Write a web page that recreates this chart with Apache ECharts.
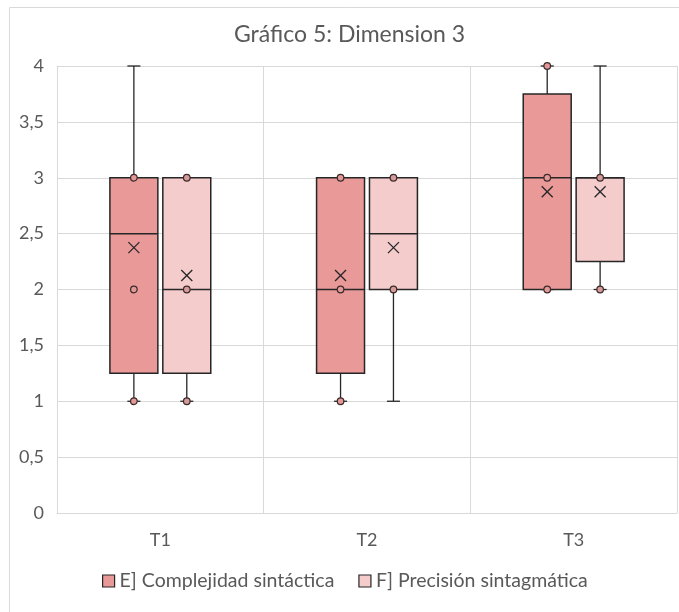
<!DOCTYPE html>
<html>
<head>
<meta charset="utf-8">
<script src="https://cdn.jsdelivr.net/npm/echarts@6/dist/echarts.min.js"></script>
<style>
  html, body { margin: 0; padding: 0; background: #fff; }
  #chart { width: 679px; height: 612px; }
</style>
</head>
<body>
<div id="chart"></div>
<script>
const categories = ['T1', 'T2', 'T3']
const yTicks = [0, 0.5, 1, 1.5, 2, 2.5, 3, 3.5, 4]

// [min, Q1, median, Q3, max]
const complejidadBox = [[1, 1.25, 2.5, 3, 4], [1, 1.25, 2, 3, 3], [2, 2, 3, 3.75, 4]]
const complejidadMean = [2.375, 2.125, 2.875]
const complejidadPoints = [[1, 2, 3], [1, 2, 3], [2, 3, 4]]

const precisionBox = [[1, 1.25, 2, 3, 3], [1, 2, 2.5, 3, 3], [2, 2.25, 3, 3, 4]]
const precisionMean = [2.125, 2.375, 2.875]
const precisionPoints = [[1, 2, 3], [2, 3], [2, 3]]

const nameE = 'E] Complejidad sintáctica'
const nameF = 'F] Precisión sintagmática'
const colorE = '#EA9999'
const colorF = '#F4CCCC'
const ink = '#262626'
const font = 'Lato, "Open Sans", sans-serif'

const boxData = (box, mean) => box.map((b, i) => [i, ...b, mean[i]])
const pointData = pts => pts.flatMap((arr, i) => arr.map(v => [i, v]))

const renderBox = (offset, fill) => (params, api) => {
  const c = api.value(0)
  const w = api.size([1, 0])[0]
  const half = w * 0.116
  const cx = api.coord([c, 0])[0] + w * offset
  const y = k => api.coord([c, api.value(k)])[1]
  const line = (x1, y1, x2, y2, lw) => ({
    type: 'line',
    shape: { x1, y1, x2, y2 },
    style: { stroke: ink, lineWidth: lw || 1.3 },
  })
  const my = y(6)
  const m = 5.5
  return {
    type: 'group',
    children: [
      line(cx, y(1), cx, y(2)),
      line(cx, y(4), cx, y(5)),
      line(cx - 6.5, y(1), cx + 6.5, y(1)),
      line(cx - 6.5, y(5), cx + 6.5, y(5)),
      {
        type: 'rect',
        shape: { x: cx - half, y: y(4), width: half * 2, height: y(2) - y(4) },
        style: { fill, stroke: ink, lineWidth: 1.5 },
      },
      line(cx - half, y(3), cx + half, y(3), 1.5),
      line(cx - m, my - m, cx + m, my + m, 1.3),
      line(cx - m, my + m, cx + m, my - m, 1.3),
    ],
  }
}

const renderPoint = (offset, fill) => (params, api) => {
  const c = api.value(0)
  const w = api.size([1, 0])[0]
  const p = api.coord([c, api.value(1)])
  return {
    type: 'circle',
    shape: { cx: p[0] + w * offset, cy: p[1], r: 3.3 },
    style: { fill, stroke: '#3a2a2a', lineWidth: 1.2 },
  }
}

const chart = echarts.init(document.getElementById('chart'))
chart.setOption({
  animation: false,
  backgroundColor: '#fff',
  title: {
    text: 'Gráfico 5: Dimension 3',
    left: 229,
    top: 18,
    textStyle: { fontFamily: font, fontSize: 23, fontWeight: 'normal', color: '#595959' },
  },
  graphic: [{
    type: 'rect',
    left: 7, top: 5,
    shape: { width: 720, height: 660 },
    style: { fill: 'none', stroke: '#d9d9d9', lineWidth: 1 },
    silent: true,
  }],
  legend: {
    bottom: 16,
    left: 97,
    itemWidth: 12,
    itemHeight: 12,
    itemGap: 24,
    textStyle: { fontFamily: font, fontSize: 19.5, color: '#595959' },
    data: [
      { name: nameE, icon: 'rect', itemStyle: { color: colorE, borderColor: ink, borderWidth: 1.2 } },
      { name: nameF, icon: 'rect', itemStyle: { color: colorF, borderColor: ink, borderWidth: 1.2 } },
    ],
  },
  grid: { left: 57, right: 2, top: 66, bottom: 99 },
  xAxis: {
    type: 'category',
    data: categories,
    boundaryGap: true,
    axisTick: { show: false },
    axisLine: { lineStyle: { color: '#d9d9d9' } },
    splitLine: { show: true, lineStyle: { color: '#d9d9d9' } },
    axisLabel: { fontFamily: font, fontSize: 18, color: '#595959', margin: 18 },
  },
  yAxis: {
    type: 'value',
    min: 0,
    max: 4,
    interval: 0.5,
    axisLine: { show: true, lineStyle: { color: '#d9d9d9' } },
    axisTick: { show: false },
    splitLine: { lineStyle: { color: '#d9d9d9' } },
    axisLabel: {
      fontFamily: font, fontSize: 18, color: '#595959', margin: 13,
      formatter: v => yTicks.includes(v) ? String(v).replace('.', ',') : '',
    },
  },
  series: [
    {
      name: nameE, type: 'custom', renderItem: renderBox(-0.128, colorE),
      itemStyle: { color: colorE },
      encode: { x: 0, y: [1, 2, 3, 4, 5, 6] },
      data: boxData(complejidadBox, complejidadMean), z: 2,
    },
    {
      name: nameF, type: 'custom', renderItem: renderBox(0.128, colorF),
      itemStyle: { color: colorF },
      encode: { x: 0, y: [1, 2, 3, 4, 5, 6] },
      data: boxData(precisionBox, precisionMean), z: 2,
    },
    {
      name: nameE, type: 'custom', renderItem: renderPoint(-0.128, '#E39797'),
      encode: { x: 0, y: 1 },
      data: pointData(complejidadPoints), z: 3,
    },
    {
      name: nameF, type: 'custom', renderItem: renderPoint(0.128, '#D69A9A'),
      encode: { x: 0, y: 1 },
      data: pointData(precisionPoints), z: 3,
    },
  ],
})
</script>
</body>
</html>
